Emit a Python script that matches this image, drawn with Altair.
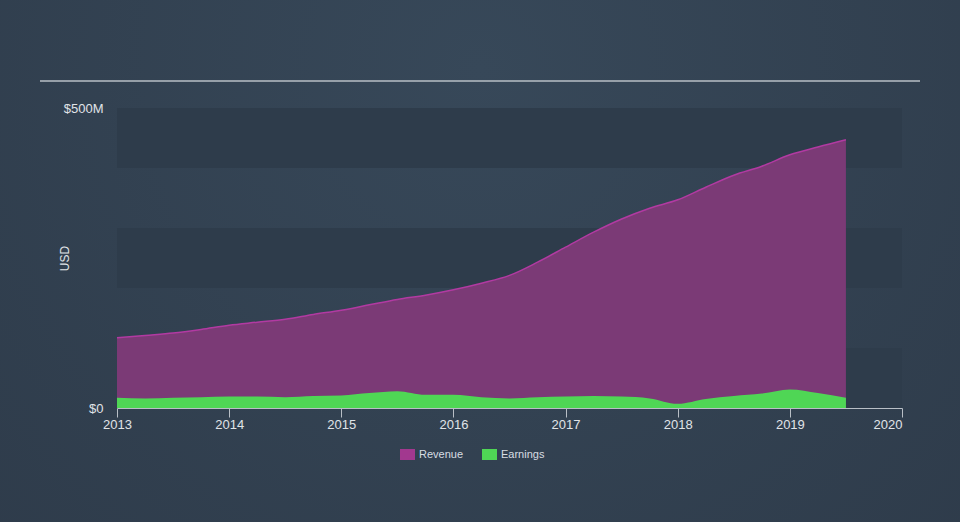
import altair as alt
import pandas as pd

years = [2013.0, 2013.25, 2013.5, 2013.75, 2014.0, 2014.25, 2014.5, 2014.75,
         2015.0, 2015.25, 2015.5, 2015.75, 2016.0, 2016.25, 2016.5, 2016.75,
         2017.0, 2017.25, 2017.5, 2017.75, 2018.0, 2018.25, 2018.5, 2018.75,
         2019.0, 2019.25, 2019.5]
revenue = [117, 121, 125, 131, 138, 143, 148, 156, 163, 172, 181, 188, 197, 208,
           221, 243, 268, 293, 315, 333, 347, 368, 388, 403, 422, 435, 447]
earnings = [17, 16, 17, 18, 19, 19, 18, 20, 21, 25, 28, 22, 22, 18, 16, 18,
            19, 20, 19, 16, 7, 15, 20, 24, 31, 25, 17]
band_lo = [0, 200, 400]
band_hi = [100, 300, 500]

W, H = 785, 300
PL, PT, PR, PB = 117, 108, 58, 114

df = pd.DataFrame({"year": years, "Revenue": revenue, "Earnings": earnings})
long = df.melt("year", var_name="series", value_name="value")
bands = pd.DataFrame({"lo": band_lo, "hi": band_hi, "x0": [2013] * 3, "x1": [2020] * 3})

xscale = alt.Scale(domain=[2013, 2020], nice=False, zero=False)
yscale = alt.Scale(domain=[0, 500], nice=False)

bg = alt.Chart(pd.DataFrame({"a": [0]})).mark_rect(
    color=alt.RadialGradient(
        gradient="radial", x1=0.5, y1=0.3, r1=0.0, x2=0.5, y2=0.3, r2=0.75,
        stops=[alt.GradientStop(offset=0, color="#374859"),
               alt.GradientStop(offset=1, color="#2e3b4a")])
).encode(x=alt.value(-PL), x2=alt.value(W + PR), y=alt.value(-PT), y2=alt.value(H + PB))

band = alt.Chart(bands).mark_rect(color="#2e3c4b").encode(
    x=alt.X("x0:Q", scale=xscale), x2="x1:Q",
    y=alt.Y("lo:Q", scale=yscale), y2="hi:Q")

topline = alt.Chart(pd.DataFrame({"a": [0]})).mark_rule(color="#b9bfc6", strokeWidth=1.5).encode(
    x=alt.value(40 - PL), x2=alt.value(920 - PL), y=alt.value(81 - PT))

color_scale = alt.Scale(domain=["Revenue", "Earnings"], range=["#a2388f", "#4fd655"])

xaxis = alt.Axis(title=None, values=list(range(2013, 2021)), format="d",
                 domainColor="#b9bfc6", tickColor="#b9bfc6", tickSize=9,
                 labelPadding=1, labelFontSize=13, labelColor="#e0e4e8",
                 labelAlign={"condition": {"test": "datum.value == 2020", "value": "right"},
                             "value": "center"},
                 grid=False, zindex=1)
yaxis = alt.Axis(title="USD", values=[0, 500], grid=False, domain=False, ticks=False,
                 labelExpr="datum.value == 0 ? '$0' : '$500M'",
                 labelPadding=14, labelFontSize=13, labelColor="#e0e4e8",
                 titleColor="#e0e4e8", titleFontSize=12, titleFontWeight="normal",
                 titleX=-46, titleY=150, titleAngle=270, titleAlign="center",
                 titleBaseline="bottom", zindex=1)

rev = alt.Chart(df).mark_area(
    interpolate="monotone", color="#7b3a76", opacity=1,
    line={"color": "#b23aa2", "strokeWidth": 1.5}
).encode(
    x=alt.X("year:Q", scale=xscale, axis=xaxis),
    y=alt.Y("Revenue:Q", scale=yscale, axis=yaxis),
)

earn = alt.Chart(df).mark_area(interpolate="monotone", color="#4fd655", opacity=1).encode(
    x=alt.X("year:Q", scale=xscale, axis=xaxis),
    y=alt.Y("Earnings:Q", scale=yscale, axis=yaxis),
)

legend_src = alt.Chart(long).mark_point(opacity=0).encode(
    x=alt.X("year:Q", scale=xscale, axis=xaxis),
    y=alt.Y("value:Q", scale=yscale, axis=yaxis),
    color=alt.Color("series:N", scale=color_scale,
                    legend=alt.Legend(title=None, orient="none", direction="horizontal",
                                      legendX=404 - PL - 2, legendY=449 - PT,
                                      symbolType="M-1.36,-1H1.36V1H-1.36Z", symbolSize=121,
                                      symbolOpacity=1, symbolStrokeWidth=0,
                                      labelColor="#d8dde2", labelFontSize=11, labelOffset=6,
                                      columnPadding=18)),
    fill=alt.Fill("series:N", scale=color_scale, legend=None),
)

chart = alt.layer(bg, band, topline, rev, earn, legend_src).properties(
    width=W, height=H,
    padding={"left": PL, "top": PT, "right": PR, "bottom": PB},
    autosize=alt.AutoSizeParams(type="none"),
    background="#323f4e",
).configure_view(stroke=None).configure(font="Liberation Sans")

chart.save("out.html", embed_options={"renderer": "svg", "actions": False})
